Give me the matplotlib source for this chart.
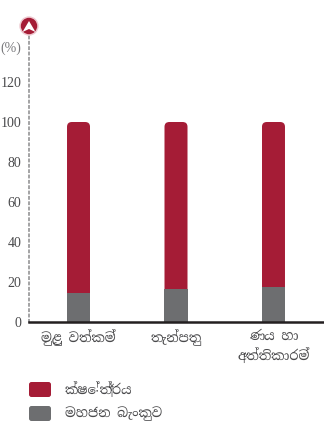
import matplotlib
matplotlib.use("Agg")
import matplotlib.pyplot as plt
from matplotlib.patches import Circle, FancyBboxPatch, Polygon
from matplotlib.transforms import IdentityTransform

categories = ["මුළු වත්කම්", "තැන්පතු", "ණය හා\nඅත්තිකාරම්"]
bank_share = [14.5, 16.5, 17.5]
sector_share = [85.5, 83.5, 82.5]
legend_labels = ["ක්ෂේත්‍රය", "මහජන බැංකුව"]
y_ticks = [0, 20, 40, 60, 80, 100, 120]

RED = "#a51c36"
GREY = "#6d6e70"
INK = "#4a4a4c"
W, H = 324, 423

plt.rcParams["font.family"] = ["Liberation Serif", "Noto Serif Sinhala", "DejaVu Sans"]
SINHALA = ["Noto Serif Sinhala", "Liberation Serif"]

fig = plt.figure(figsize=(W / 100, H / 100), dpi=100)
ax = fig.add_axes([29 / W, (H - 322) / H, 294 / W, 287 / H])
ax.set_xlim(-0.508, 2.508)
ax.set_ylim(0, 143.5)

x = range(len(categories))
bar_w = 0.236
ax.bar(x, bank_share, bar_w, color=GREY, zorder=2)
tops = ax.bar(x, sector_share, bar_w, bottom=bank_share, color=RED, zorder=2)

# round only the top corners of the red segments
for b in tops:
    clip = FancyBboxPatch(
        (b.get_x(), 0), b.get_width(), b.get_y() + b.get_height(),
        boxstyle="round,pad=0,rounding_size=0.05", mutation_aspect=48,
        transform=ax.transData,
    )
    b.set_clip_path(clip)

for side in ["top", "right"]:
    ax.spines[side].set_visible(False)
ax.spines["left"].set(linestyle=(0, (1.5, 2)), color="#8a8a8c", linewidth=1.1)
ax.spines["bottom"].set(color="#231f20", linewidth=1.8, zorder=3)

ax.set_yticks(y_ticks)
ax.set_xticks(list(x), categories, family=SINHALA, linespacing=1.35)
ax.tick_params(axis="y", length=0, pad=5.5, labelsize=10, labelcolor=INK)
ax.tick_params(axis="x", length=0, pad=5.5, labelsize=9.5, labelcolor=INK)
ax.text(-0.027, 137, "(%)", transform=ax.get_yaxis_transform(), ha="right",
        va="center", fontsize=10, color="#77777a")


def px(x0, y0):
    return x0, H - y0


# marker at the top of the value axis
fig.add_artist(Circle(px(29, 26), 9.7, transform=IdentityTransform(),
                      fc="#eec9d0", ec="none"))
fig.add_artist(Circle(px(29, 26), 8.2, transform=IdentityTransform(),
                      fc=RED, ec="none"))
fig.add_artist(Polygon([px(29, 21), px(35.5, 32), px(29, 29), px(22.5, 32)],
                       transform=IdentityTransform(), fc="white", ec="none"))

# legend swatches and labels
for top, colour, label in zip([382, 406], [RED, GREY], legend_labels):
    fig.add_artist(FancyBboxPatch(
        px(29, top + 15), 22, 15, boxstyle="round,pad=0,rounding_size=2.5",
        transform=IdentityTransform(), fc=colour, ec="none"))
    fig.text(65 / W, (H - top - 7.5) / H, label, fontsize=9.5, color=INK,
             va="center", family=SINHALA)

fig.savefig("out.png", dpi=100)
